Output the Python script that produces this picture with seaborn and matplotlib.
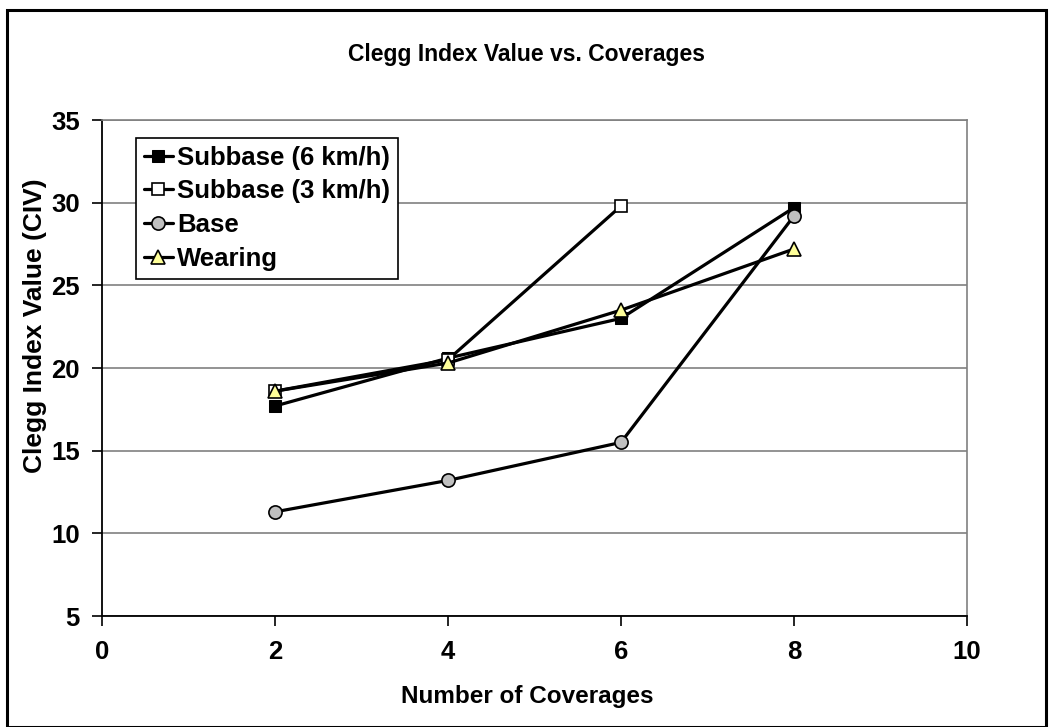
import matplotlib
matplotlib.use("Agg")
import matplotlib.pyplot as plt
import seaborn as sns
import pandas as pd
from matplotlib.patches import Rectangle

sns.set_theme(style="white")
plt.rcParams['font.family'] = ['Liberation Sans', 'DejaVu Sans']
plt.rcParams['font.weight'] = 'bold'
plt.rcParams['text.color'] = 'black'
plt.rcParams['axes.labelcolor'] = 'black'
plt.rcParams['xtick.color'] = 'black'
plt.rcParams['ytick.color'] = 'black'

# Data
coverages_6kmh = [2, 4, 6, 8]
subbase_6kmh = [17.7, 20.6, 23.0, 29.7]
coverages_3kmh = [2, 4, 6]
subbase_3kmh = [18.6, 20.5, 29.8]
coverages_base = [2, 4, 6, 8]
base = [11.3, 13.2, 15.5, 29.2]
coverages_wear = [2, 4, 6, 8]
wearing = [18.6, 20.3, 23.5, 27.2]

series_names = ["Subbase (6 km/h)", "Subbase (3 km/h)", "Base", "Wearing"]
x_ticks = [0, 2, 4, 6, 8, 10]
y_ticks = [5, 10, 15, 20, 25, 30, 35]

fig = plt.figure(figsize=(10.52, 7.27), dpi=100)
ax = fig.add_axes([102/1052, 1-616/727, (967-102)/1052, (616-120)/727])

styles = [
    dict(marker='s', markerfacecolor='black', markeredgecolor='black', markersize=8.5),
    dict(marker='s', markerfacecolor='white', markeredgecolor='black', markersize=8.5, markeredgewidth=1.2),
    dict(marker='o', markerfacecolor='#c0c0c0', markeredgecolor='black', markersize=9.5, markeredgewidth=1.2),
    dict(marker='^', markerfacecolor='#ffff99', markeredgecolor='black', markersize=10.5, markeredgewidth=1.2),
]
datasets = [(coverages_6kmh, subbase_6kmh), (coverages_3kmh, subbase_3kmh),
            (coverages_base, base), (coverages_wear, wearing)]

for name, (xs, ys), st in zip(series_names, datasets, styles):
    df = pd.DataFrame({"x": xs, "y": ys})
    sns.lineplot(data=df, x="x", y="y", ax=ax, color='black', linewidth=2.3,
                 label=name, **st)

ax.set_xlim(0, 10)
ax.set_ylim(5, 35)
ax.set_xticks(x_ticks)
ax.set_yticks(y_ticks)
ax.set_xticklabels([str(t) for t in x_ticks], fontsize=18.5, fontweight='bold')
ax.set_yticklabels([str(t) for t in y_ticks], fontsize=18.5, fontweight='bold')
ax.tick_params(axis='both', direction='out', length=7, width=1.2, color='black',
               bottom=True, left=True)
ax.tick_params(axis='x', pad=10)
ax.tick_params(axis='y', pad=9)
ax.yaxis.grid(True, color='#808080', linewidth=1.2)
ax.xaxis.grid(False)
ax.set_axisbelow(True)
for s in ['top', 'right']:
    ax.spines[s].set_color('#808080')
    ax.spines[s].set_linewidth(1.2)
for s in ['left', 'bottom']:
    ax.spines[s].set_color('black')
    ax.spines[s].set_linewidth(1.3)

ax.set_xlabel("Number of Coverages", fontsize=17.5, fontweight='bold', labelpad=16)
ax.set_ylabel("Clegg Index Value (CIV)", fontsize=19, fontweight='bold')
ax.yaxis.set_label_coords((35 - 102) / (967 - 102), (616 - 326) / 496)
ax.xaxis.set_label_coords((527 - 102) / (967 - 102), (616 - 696) / 496)
ax.xaxis.label.set_va('center')
ax.yaxis.label.set_va('center')

fig.text(527/1052, 1-55/727, "Clegg Index Value vs. Coverages", ha='center', va='center',
         fontsize=16.5, fontweight='bold')

leg = ax.legend(loc='upper left', bbox_to_anchor=(136/1052, 1-138/727),
                bbox_transform=fig.transFigure, borderaxespad=0,
                frameon=True, fancybox=False, edgecolor='black', framealpha=1,
                handlelength=1.15, handletextpad=0.15, labelspacing=0.38,
                borderpad=0.3, prop={'weight': 'bold', 'size': 18.5})
leg.get_frame().set_linewidth(1.2)

fig.patches.append(Rectangle((7/1052, 0), (1046-7)/1052, 1-10/727, transform=fig.transFigure,
                             fill=False, edgecolor='black', linewidth=2.2))

fig.savefig("out.png", dpi=100)
